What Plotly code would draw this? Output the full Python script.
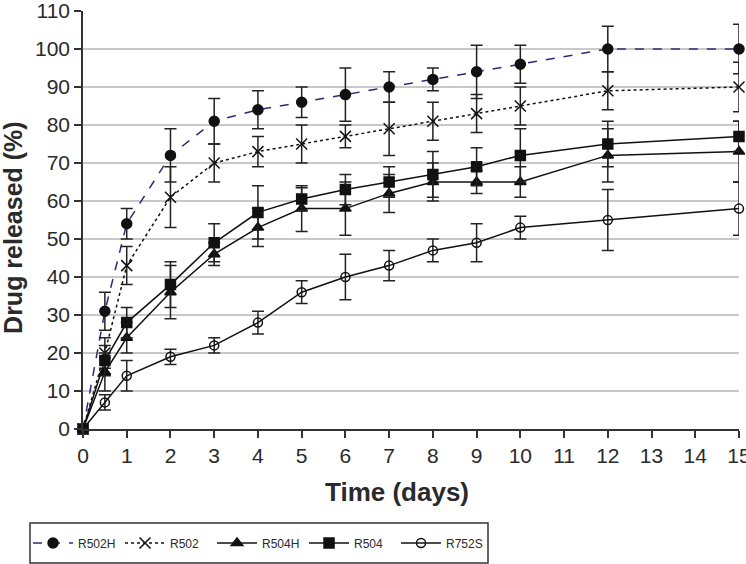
import plotly.graph_objects as go

days = [0, 0.5, 1, 2, 3, 4, 5, 6, 7, 8, 9, 10, 12, 15]

r502h = [0, 31, 54, 72, 81, 84, 86, 88, 90, 92, 94, 96, 100, 100]
r502h_err = [0, 5, 4, 7, 6, 5, 4, 7, 4, 3, 7, 5, 6, 6.5]
r502 = [0, 20, 43, 61, 70, 73, 75, 77, 79, 81, 83, 85, 89, 90]
r502_err = [0, 4, 5, 8, 5, 4, 5, 3, 7, 5, 5, 5, 5, 6.5]
r504h = [0, 15, 24, 36, 46, 53, 58, 58, 62, 65, 65, 65, 72, 73]
r504h_err = [0, 5, 4, 7, 3, 5, 6, 7, 5, 5, 3, 4, 7, 8]
r504 = [0, 18, 28, 38, 49, 57, 60.5, 63, 65, 67, 69, 72, 75, 77]
r504_err = [0, 4, 4, 6, 5, 7, 3, 4, 4, 6, 5, 7, 6, 4]
r752s = [0, 7, 14, 19, 22, 28, 36, 40, 43, 47, 49, 53, 55, 58]
r752s_err = [0, 2, 4, 2, 2, 3, 3, 6, 4, 3, 5, 3, 8, 7]

names = ["R502H", "R502", "R504H", "R504", "R752S"]
values = [r502h, r502, r504h, r504, r752s]
errors = [r502h_err, r502_err, r504h_err, r504_err, r752s_err]
line_colors = ["#2b2b7a", "#111111", "#111111", "#111111", "#111111"]
dashes = ["dash", "dot", "solid", "solid", "solid"]
symbols = ["circle", "x-thin-open", "triangle-up", "square", "circle-open"]
sizes = [10, 11, 10, 10, 9]

FONT = "Liberation Sans, Arial, sans-serif"

fig = go.Figure()
for nm, v, e, lc, ds, sym, sz in zip(names, values, errors, line_colors, dashes, symbols, sizes):
    fig.add_trace(go.Scatter(
        x=days, y=v, name=nm, mode="lines+markers",
        line=dict(color=lc, width=1.5, dash=ds),
        marker=dict(symbol=sym, size=sz, color="#111111",
                    line=dict(color="#111111", width=1.5)),
        error_y=dict(type="data", array=e, visible=True, color="#222222",
                     thickness=1.5, width=6),
        cliponaxis=False,
    ))

fig.update_layout(
    width=746, height=564,
    margin=dict(l=83, r=7, t=11, b=135, autoexpand=False),
    paper_bgcolor="white", plot_bgcolor="white",
    font=dict(family=FONT, size=21, color="#2a2a2a"),
    showlegend=True,
    legend=dict(orientation="h", x=-0.0838, y=-0.2727, xanchor="left", yanchor="middle",
                borderwidth=0, bgcolor="rgba(0,0,0,0)",
                font=dict(size=12, family=FONT, color="#2a2a2a"),
                entrywidth=37, itemwidth=40),
    shapes=[
        dict(type="rect", xref="paper", yref="paper",
             x0=(30 - 83) / 656, x1=(488 - 83) / 656,
             y0=(429 - 563) / 418, y1=(429 - 523) / 418,
             line=dict(color="#333333", width=1.5), fillcolor="rgba(0,0,0,0)"),
    ],
    annotations=[
        dict(text="<b>Time (days)</b>", x=0.479, y=-0.151, xref="paper", yref="paper",
             showarrow=False, font=dict(size=26, family=FONT, color="#2a2a2a"),
             xanchor="center", yanchor="middle"),
        dict(text="<b>Drug released (%)</b>", x=-0.107, y=0.483, xref="paper", yref="paper",
             showarrow=False, textangle=-90, font=dict(size=25, family=FONT, color="#2a2a2a"),
             xanchor="center", yanchor="middle"),
    ],
)
fig.update_xaxes(range=[0, 15], tickmode="linear", tick0=0, dtick=1,
                 showgrid=False, showline=True, linecolor="#333333", linewidth=1.5,
                 ticks="outside", ticklen=7, tickwidth=1.5, tickcolor="#333333",
                 zeroline=False, automargin=False, ticklabeloverflow="allow")
fig.update_yaxes(range=[0, 110], tickmode="linear", tick0=0, dtick=10,
                 showgrid=True, gridcolor="#c8c8c8", gridwidth=2,
                 showline=True, linecolor="#333333", linewidth=1.5,
                 ticks="outside", ticklen=7, tickwidth=1.5, tickcolor="#333333",
                 zeroline=False, automargin=False, ticklabeloverflow="allow")

fig.write_html("out.html", config={"displayModeBar": False},
               post_script="document.body.style.margin='0';")
